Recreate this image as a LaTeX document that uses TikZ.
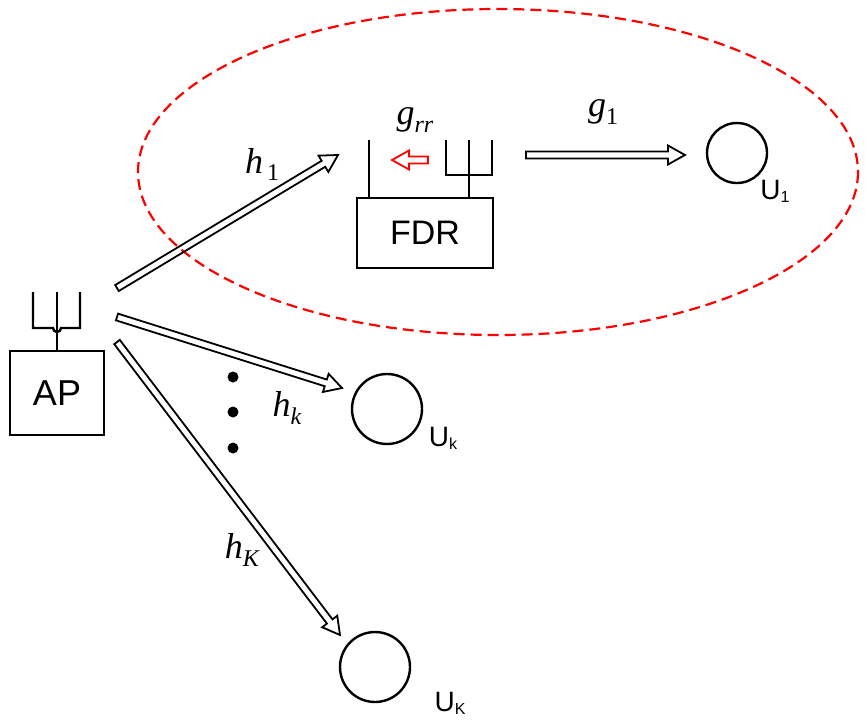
\documentclass[tikz,border=0pt]{standalone}
\usepackage{fontspec}
\setmainfont{Liberation Sans}
\newfontfamily\tms{Liberation Serif}
\usetikzlibrary{calc}
\newcommand{\harrow}[3][black]{%
  \draw[#1,line width=1.8pt,line join=miter]
   ($#2!3.5pt!90:#3$) -- ($($#3!17pt!#2$)!3.5pt!90:#3$) -- ($($#3!17pt!#2$)!9.5pt!90:#3$) -- #3
   -- ($($#3!17pt!#2$)!9.5pt!-90:#3$) -- ($($#3!17pt!#2$)!3.5pt!-90:#3$) -- ($#2!3.5pt!-90:#3$) -- cycle;}
\begin{document}
\begin{tikzpicture}[x=1pt,y=-1pt,
  ln/.style={line width=2.4pt},
  usr/.style={circle,draw,line width=2.4pt,minimum size=#1,inner sep=0pt},
  lab/.style={font=\fontsize{28}{28}\selectfont},
  ch/.style={font=\tms\itshape\fontsize{36}{36}\selectfont}]
\useasboundingbox (0,0) rectangle (868,724);
\fill[white] (0,0) rectangle (868,724);
\draw[red,line width=2.2pt,dash pattern=on 11pt off 6pt] (498,172) ellipse [x radius=360,y radius=163];
% AP
\node[draw,ln,minimum width=94pt,minimum height=84pt,font=\fontsize{36}{36}\selectfont] (ap) at (57,393) {AP};
\draw[ln] (33,292) -- (33,328) -- (53,328) arc[start angle=180,end angle=0,radius=4] -- (80,328) -- (80,292);
\draw[ln] (57,292) -- (ap.north);
% FDR
\node[draw,ln,minimum width=136pt,minimum height=70pt,font=\fontsize{34}{34}\selectfont] (fdr) at (425,233) {FDR};
\draw[ln] (369,140) -- (369,198);
\draw[ln] (446,140) -- (446,175) -- (492,175) -- (492,140);
\draw[ln] (469,140) -- (469,198);
% users
\node[usr=60pt] (u1) at (737,153) {};
\node[usr=70pt] (uk) at (387,409) {};
\node[usr=70pt] (uK) at (375,667) {};
\node[lab] at (775,191) {U\raisebox{-3pt}{\fontsize{16}{16}\selectfont 1}};
\node[lab] at (443,438) {U\raisebox{-3pt}{\fontsize{16}{16}\selectfont k}};
\node[lab] at (450,703) {U\raisebox{-3pt}{\fontsize{16}{16}\selectfont K}};
% arrows
\coordinate (a1) at (117,288); \coordinate (b1) at (338,155);
\coordinate (a2) at (117,317); \coordinate (b2) at (342,388);
\coordinate (a3) at (117,342); \coordinate (b3) at (340,635);
\coordinate (a4) at (526,155); \coordinate (b4) at (685,155);
\coordinate (a5) at (428,160); \coordinate (b5) at (392,160);
\harrow{(a1)}{(b1)}
\harrow{(a2)}{(b2)}
\harrow{(a3)}{(b3)}
\harrow{(a4)}{(b4)}
\harrow[red]{(a5)}{(b5)}
% labels
\node[ch] at (262,165) {h\kern4pt\raisebox{-7pt}{\upshape\fontsize{24}{24}\selectfont 1}};
\node[ch] at (287,408) {h\raisebox{-8pt}{\fontsize{24}{24}\selectfont k}};
\node[ch] at (242,550) {h\raisebox{-8pt}{\fontsize{24}{24}\selectfont K}};
\node[ch] at (603,112) {g\raisebox{-8pt}{\upshape\fontsize{24}{24}\selectfont 1}};
\node[ch] at (415,120) {g\raisebox{-8pt}{\fontsize{24}{24}\selectfont rr}};
% dots
\fill (233,377) circle (5.5pt) (233,412) circle (5.5pt) (233,448) circle (5.5pt);
\end{tikzpicture}
\end{document}
